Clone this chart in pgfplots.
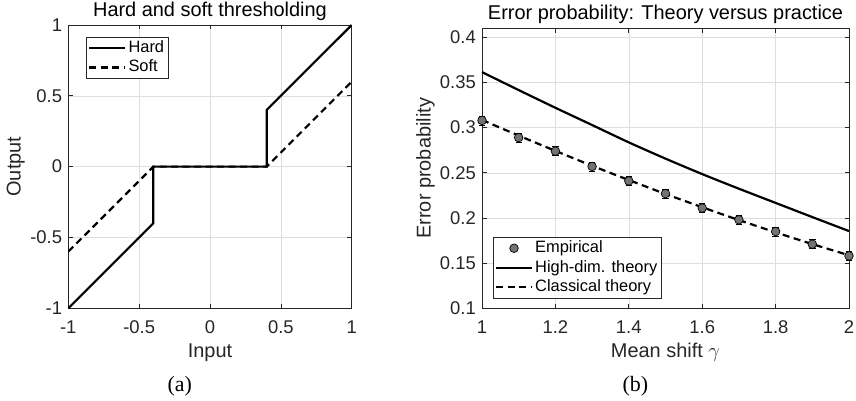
\documentclass[border=0pt]{standalone}
\usepackage{fontspec}
\setmainfont{Liberation Sans}
\newfontfamily\capfont{Liberation Serif}
\usepackage{pgfplots}
\pgfplotsset{compat=1.18}
\definecolor{axgray}{gray}{0.15}
\definecolor{gridgray}{gray}{0.87}
\pgfplotsset{
  mystyle/.style={
    scale only axis,
    anchor=south west,
    axis line style={axgray, line width=0.7bp},
    tick style={axgray, line width=0.7bp},
    major tick length=4.5bp,
    tick align=inside,
    xtick pos=both, ytick pos=both,
    grid=major,
    major grid style={gridgray, line width=0.6bp},
    /pgf/number format/assume math mode=true,
    tick label style={font=\fontsize{18.5}{20}\selectfont, text=axgray},
    xticklabel style={anchor=north, inner sep=0pt, yshift=-12.4bp},
    yticklabel style={anchor=east, inner sep=0pt, xshift=-6bp},
    every axis title shift=0pt,
    title style={font=\fontsize{20}{22}\selectfont, at={(axis description cs:0.5,1)}, anchor=base, yshift=8.3bp, inner sep=0pt},
    xlabel style={font=\fontsize{20}{22}\selectfont, at={(axis description cs:0.5,0)}, anchor=base, yshift=-49bp, inner sep=0pt, text=axgray},
    ylabel style={font=\fontsize{20}{22}\selectfont, anchor=base, inner sep=0pt, text=axgray},
    legend cell align=left,
    legend style={font=\fontsize{16.5}{18}\selectfont, draw=axgray, line width=0.6bp, inner xsep=2bp, inner ysep=1bp,
      nodes={inner sep=2bp, text height=12bp, text depth=3.5bp},
      /tikz/every even column/.append style={column sep=0bp}},
    legend image code/.code={\draw[mark repeat=2,mark phase=2,#1] plot coordinates {(0bp,0bp) (18bp,0bp) (36bp,0bp)};},
  }
}
\begin{document}
\begin{tikzpicture}
\useasboundingbox (0,0) rectangle (856bp,401bp);
% ---------------- (a) ----------------
\begin{axis}[mystyle,
  at={(68.3bp,92.7bp)}, width=283.4bp, height=283.3bp,
  xmin=-1, xmax=1, ymin=-1, ymax=1,
  xtick={-1,-0.5,0,0.5,1}, xticklabels={-1,-0.5,0,0.5,1},
  ytick={-1,-0.5,0,0.5,1}, yticklabels={-1,-0.5,0,0.5,1},
  title={Hard and soft thresholding},
  xlabel={Input}, ylabel={Output},
  ylabel style={at={(axis description cs:-0.168,0.5)}},
  legend style={at={(axis description cs:0.0625,0.9576)}, anchor=north west},
]
\addplot[black, line width=2.2bp] coordinates {(-1,-1) (-0.4,-0.4) (-0.4,0) (0.4,0) (0.4,0.4) (1,1)};
\addlegendentry{Hard}
\addplot[black, line width=2.2bp, dash pattern=on 7bp off 4.5bp] coordinates {(-1,-0.6) (-0.4,0) (0.4,0) (1,0.6)};
\addlegendentry{Soft}
\end{axis}
% ---------------- (b) ----------------
\begin{axis}[mystyle,
  at={(482bp,92.7bp)}, width=367bp, height=280bp,
  xmin=1, xmax=2, ymin=0.1, ymax=0.41,
  xtick={1,1.2,1.4,1.6,1.8,2}, xticklabels={1,1.2,1.4,1.6,1.8,2},
  ytick={0.1,0.15,0.2,0.25,0.3,0.35,0.4}, yticklabels={0.1,0.15,0.2,0.25,0.3,0.35,0.4},
  title={Error probability: Theory versus practice},
  xlabel={Mean shift $\gamma$}, ylabel={Error probability},
  ylabel style={at={(axis description cs:-0.1398,0.5)}},
  legend style={at={(axis description cs:0.029,0.0357)}, anchor=south west},
  clip=false,
]
\pgfplotstableread{
x y e
1.0 0.308 0.005
1.1 0.289 0.005
1.2 0.274 0.005
1.3 0.257 0.005
1.4 0.241 0.005
1.5 0.227 0.005
1.6 0.211 0.005
1.7 0.198 0.005
1.8 0.185 0.005
1.9 0.171 0.005
2.0 0.158 0.005
}\emp
\addplot[only marks, mark=*, mark size=4.3bp, mark options={fill=black!55, draw=black, line width=0.7bp}]
  table[x=x, y=y] {\emp};
\addlegendentry{Empirical}
\addplot[black, line width=2.2bp, smooth] coordinates {
(1.0,0.3615) (1.1,0.3416) (1.2,0.3220) (1.3,0.3029) (1.4,0.2837) (1.5,0.2657)
(1.6,0.2486) (1.7,0.2324) (1.8,0.2167) (1.9,0.2010) (2.0,0.1855)};
\addlegendentry{High-dim. theory}
\addplot[black, line width=2.2bp, dash pattern=on 7bp off 4.5bp, smooth] coordinates {
(1.0,0.3085) (1.1,0.2912) (1.2,0.2743) (1.3,0.2578) (1.4,0.2420) (1.5,0.2266)
(1.6,0.2119) (1.7,0.1977) (1.8,0.1841) (1.9,0.1711) (2.0,0.1587)};
\addlegendentry{Classical theory}
\addplot[draw=none, mark=none, forget plot,
  error bars/.cd, y dir=both, y explicit, error bar style={black, line width=0.8bp},
  error mark options={rotate=90, mark size=3.2bp, black, line width=0.8bp}]
  table[x=x, y=y, y error=e] {\emp};
\end{axis}
\node[font=\capfont\fontsize{22}{24}\selectfont, anchor=base, inner sep=0pt] at (179.7bp,9.3bp) {(a)};
\node[font=\capfont\fontsize{22}{24}\selectfont, anchor=base, inner sep=0pt] at (635.3bp,9.3bp) {(b)};
\end{tikzpicture}
\end{document}
